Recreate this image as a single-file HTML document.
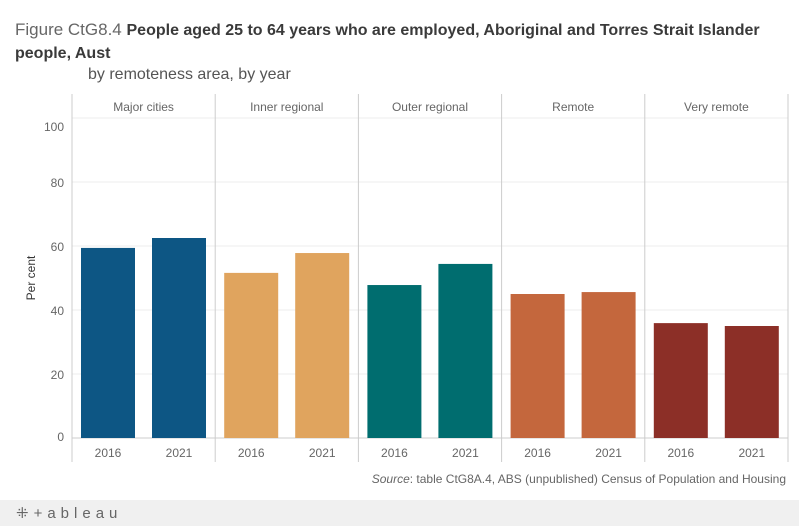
<!DOCTYPE html>
<html><head><meta charset="utf-8"><style>
body{margin:0;width:799px;height:526px;background:#fff;font-family:"Liberation Sans",sans-serif;overflow:hidden;position:relative}
.t{position:absolute;left:15px;top:19px;font-size:17px;color:#333;line-height:22px;width:790px;white-space:nowrap}
.t2{position:absolute;left:88px;top:66px;font-size:16px;color:#555}
.footer{position:absolute;left:0;top:500px;width:799px;height:26px;background:#f0f0f0}
</style></head><body>
<div class="t"><span style="color:#666">Figure CtG8.4</span> <span style="font-weight:bold;color:#3a3a3a;font-size:16px">People aged 25 to 64 years who are employed, Aboriginal and Torres Strait Islander<br>people, Aust</span></div>
<div class="t2">by remoteness area, by year</div>
<svg id="c" width="799" height="500" style="position:absolute;left:0;top:0"></svg>
<div class="footer"><span style="position:absolute;left:16px;top:4px;font-size:15px;color:#666;letter-spacing:5px">⁜+ableau</span></div>
<script>
const categories=["Major cities","Inner regional","Outer regional","Remote","Very remote"];
const years=["2016","2021"];
const v2016=[59.4,51.6,47.8,45.0,35.9];
const v2021=[62.5,57.8,54.4,45.6,35.0];
const colors=["#0d5684","#e0a45e","#006d6f","#c4673d","#8c2f27"];
const yTicks=[0,20,40,60,80,100];
const NS="http://www.w3.org/2000/svg",svg=document.getElementById('c');
const x0=72,pw=143.2,yb=438,sc=3.2;
const y=v=>yb-v*sc;
function el(t,a,txt){const e=document.createElementNS(NS,t);for(const k in a)e.setAttribute(k,a[k]);if(txt!==undefined)e.textContent=txt;svg.appendChild(e);return e;}
yTicks.forEach(t=>{
 const g=el('line',{x1:x0,x2:x0+pw*5,y1:y(t),y2:y(t),stroke:t==0?'#ccc':'#eee'});
 
 let ly=y(t)+5; if(t==0)ly-=2; if(t==100)ly+=8;
 const l=el('text',{x:64,y:ly,'text-anchor':'end','font-size':12,fill:'#666'},t);
 
});
const yt=el('text',{x:35,y:278,'text-anchor':'middle','font-size':12,fill:'#333',transform:'rotate(-90 35 278)'},'Per cent');

for(let i=0;i<=5;i++){
 const l=el('line',{x1:x0+pw*i,x2:x0+pw*i,y1:94,y2:462,stroke:'#ccc'});
 
}
categories.forEach((c,i)=>{
 const px=x0+pw*i;
 const h=el('text',{x:px+pw/2,y:111,'text-anchor':'middle','font-size':12,fill:'#666'},c);
 
 [v2016[i],v2021[i]].forEach((v,j)=>{
  const cx=px+36+71*j;
  const r=el('rect',{x:cx-27,y:y(v),width:54,height:v*sc,fill:colors[i]});
  
  
  const tl=el('text',{x:cx,y:457,'text-anchor':'middle','font-size':12,fill:'#666'},years[j]);
  
 });
});
const s=el('text',{x:786,y:483,'text-anchor':'end','font-size':12,fill:'#666'});
s.innerHTML='<tspan font-style="italic">Source</tspan>: table CtG8A.4, ABS (unpublished) Census of Population and Housing';

</script>
</body></html>
